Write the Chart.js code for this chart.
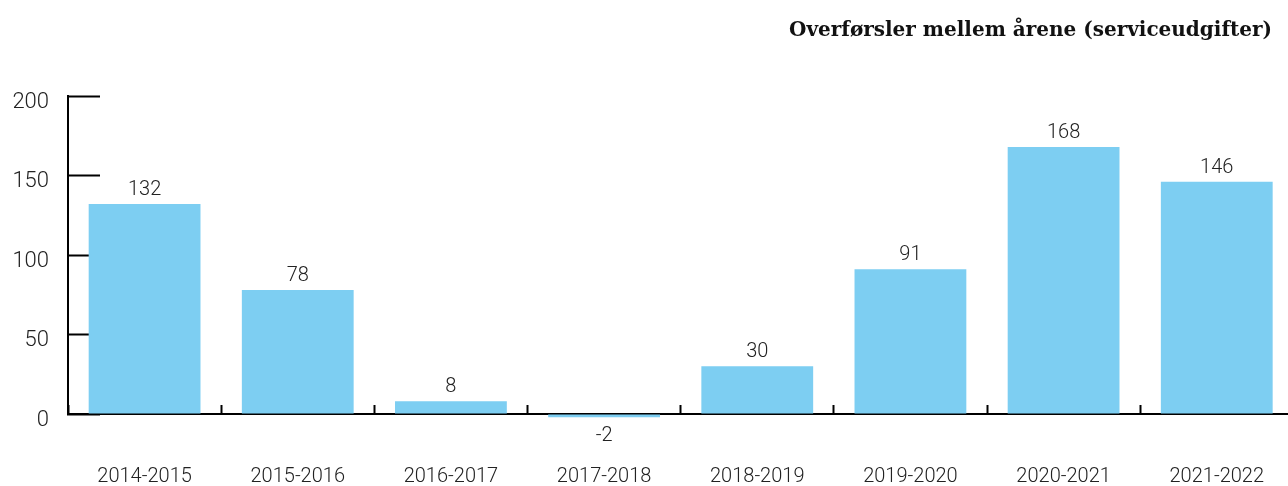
<!DOCTYPE html>
<html>
<head>
<meta charset="utf-8">
<script src="https://cdn.jsdelivr.net/npm/chart.js@4.4.0/dist/chart.umd.min.js"></script>
<style>
  html, body { margin: 0; padding: 0; background: #fff; overflow: hidden; width: 1288px; height: 486px; }
  #title { position: absolute; right: 16px; top: 17px; font-family: "DejaVu Serif"; font-weight: bold; font-size: 20px; color: #111; white-space: nowrap; z-index: 1; }
  #wrap { position: absolute; left: 0; top: 0; width: 1324px; height: 486px; }
</style>
</head>
<body>
<div id="title">Overførsler mellem årene (serviceudgifter)</div>
<div id="wrap"><canvas id="myChart"></canvas></div>
<script>
// data
const periods = ["2014-2015", "2015-2016", "2016-2017", "2017-2018", "2018-2019", "2019-2020", "2020-2021", "2021-2022"];
const transfers = [132, 78, 8, -2, 30, 91, 168, 146];
const yMin = 0;
const yMax = 200;
const yStep = 50;

const ctx = document.getElementById("myChart");

// value labels above (or below) each bar
const barValueLabels = {
  id: "barValueLabels",
  afterDatasetsDraw(chart) {
    const c = chart.ctx;
    const meta = chart.getDatasetMeta(0);
    c.save();
    c.font = "300 20px Roboto";
    c.fillStyle = "#222";
    c.textAlign = "center";
    c.textBaseline = "alphabetic";
    meta.data.forEach((bar, i) => {
      const v = transfers[i];
      if (v >= 0) {
        c.fillText(String(v), bar.x, bar.y - 9);
      } else {
        c.fillText(String(v), bar.x, bar.y + 24);
      }
    });
    c.restore();
  },
};

new Chart(ctx, {
  type: "bar",
  data: {
    labels: periods,
    datasets: [
      {
        data: transfers,
        backgroundColor: "#7dcef2",
        borderWidth: 0,
        categoryPercentage: 1,
        barPercentage: 0.73,
        clip: false,
      },
    ],
  },
  options: {
    responsive: true,
    maintainAspectRatio: false,
    animation: false,
    layout: {
      padding: { left: 12, top: 96, right: 0, bottom: 0 },
    },
    plugins: {
      legend: { display: false },
      tooltip: { enabled: false },
    },
    scales: {
      x: {
        afterFit: (scale) => { scale.height = 72; },
        grid: {
          offset: true,
          drawOnChartArea: false,
          drawTicks: true,
          tickLength: -9,
          tickWidth: 2,
          tickColor: "#000",
        },
        border: { display: true, color: "#000", width: 2 },
        ticks: {
          padding: 60,
          color: "#222",
          font: { family: "Roboto", weight: 300, size: 20 },
          maxRotation: 0,
        },
      },
      y: {
        min: yMin,
        max: yMax,
        afterFit: (scale) => { scale.width = 56; },
        grid: {
          drawOnChartArea: false,
          drawTicks: true,
          tickLength: -32,
          tickWidth: 2,
          tickColor: "#000",
        },
        border: { display: true, color: "#000", width: 2 },
        ticks: {
          stepSize: yStep,
          padding: 51,
          labelOffset: 6,
          color: "#222",
          font: { family: "Roboto", weight: 300, size: 22 },
        },
      },
    },
  },
  plugins: [barValueLabels],
});
</script>
</body>
</html>
